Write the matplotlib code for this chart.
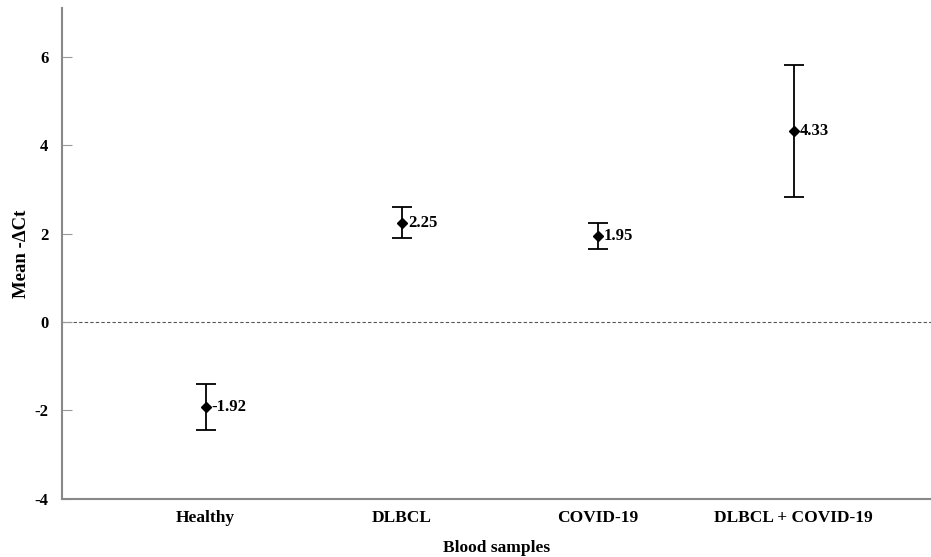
import matplotlib.pyplot as plt

plt.rcParams['font.family'] = ['Liberation Serif', 'DejaVu Serif']
plt.rcParams['font.weight'] = 'bold'
plt.rcParams['axes.unicode_minus'] = False

groups = ['Healthy', 'DLBCL', 'COVID-19', 'DLBCL + COVID-19']
means = [-1.92, 2.25, 1.95, 4.33]
lower = [-2.45, 1.90, 1.66, 2.83]
upper = [-1.41, 2.60, 2.24, 5.82]

fig = plt.figure(figsize=(9.31, 5.57), dpi=100)
ax = fig.add_axes([0.067, 0.105, 0.933, 0.88])

x = list(range(len(groups)))
yerr = [[m - lo for m, lo in zip(means, lower)], [hi - m for m, hi in zip(means, upper)]]
ax.errorbar(x, means, yerr=yerr, fmt='D', color='black', markersize=5.5,
            elinewidth=1.3, capsize=7, capthick=1.3, zorder=3)

for xi, m in zip(x, means):
    ax.annotate(f'{m:.2f}', (xi, m), xytext=(4.5, 0), textcoords='offset points',
                va='center', ha='left', fontsize=12, fontweight='bold')

ax.axhline(0, color='#555555', linestyle=(0, (3, 2)), linewidth=0.8, zorder=1)

ax.set_xlim(-0.73, 3.70)
ax.set_ylim(-4, 7.1)
ax.set_xticks(x)
ax.set_xticklabels(groups, fontsize=12.5, fontweight='bold')
ax.set_yticks([-4, -2, 0, 2, 4, 6])
ax.tick_params(axis='x', length=0, pad=8)
ax.tick_params(axis='y', direction='in', length=7, color='#999999', labelsize=12, pad=10)

for s in ['top', 'right']:
    ax.spines[s].set_visible(False)
for s in ['left', 'bottom']:
    ax.spines[s].set_color('#888888')
    ax.spines[s].set_linewidth(1.5)

ax.set_xlabel('Blood samples', fontsize=12.5, fontweight='bold')
ax.set_ylabel('Mean -ΔCt', fontsize=13.5, fontweight='bold')
ax.xaxis.set_label_coords(0.5, -0.085)
ax.yaxis.set_label_coords(-0.037, 0.5)

fig.savefig('out.png', dpi=100, facecolor='white')
